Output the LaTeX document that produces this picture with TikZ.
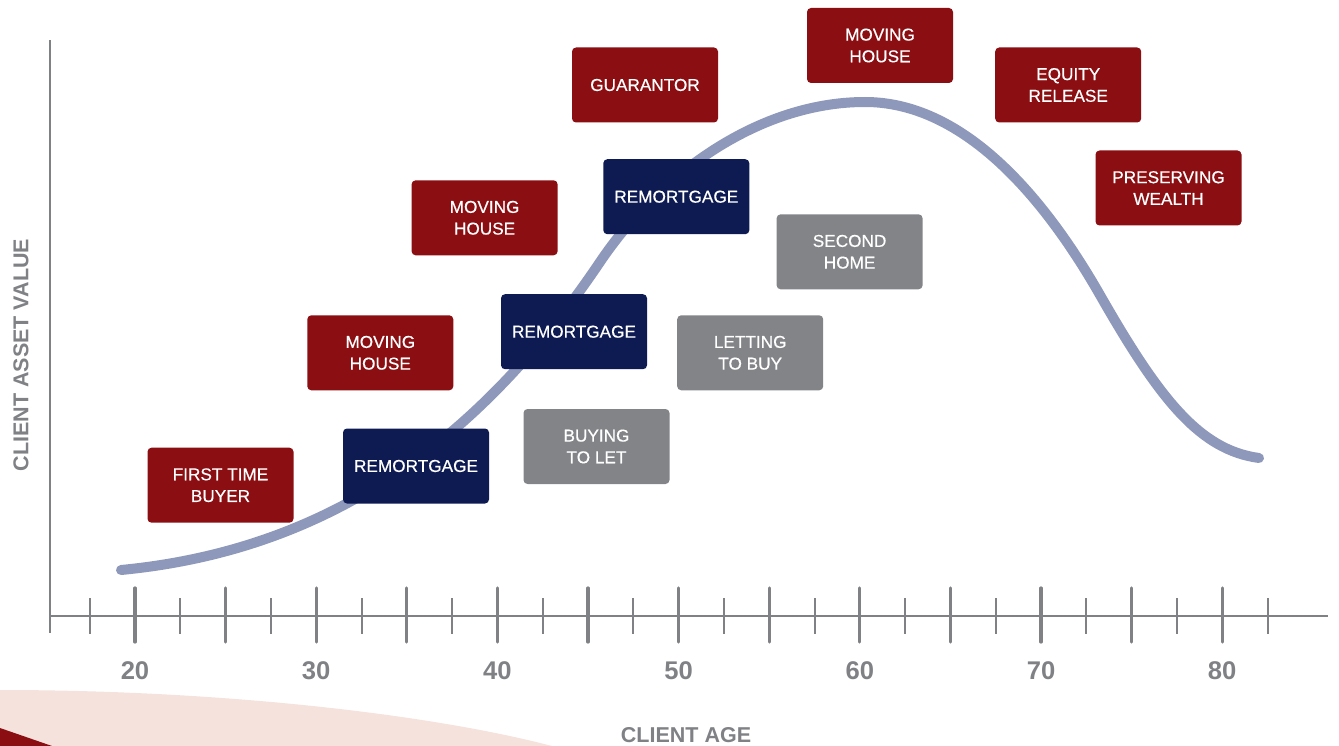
\documentclass[tikz,border=0pt]{standalone}
\usepackage{fontspec}
\setmainfont{Liberation Sans}
\newfontfamily\boxfont[FakeBold=0.5]{Liberation Sans}
\definecolor{boxred}{RGB}{139,14,18}
\definecolor{boxnavy}{RGB}{14,27,82}
\definecolor{boxgray}{RGB}{131,132,136}
\definecolor{curvec}{RGB}{142,152,186}
\definecolor{axisc}{RGB}{128,129,133}
\definecolor{swoosh}{RGB}{245,226,220}
\begin{document}
\begin{tikzpicture}[x=1pt,y=-1pt,
  box/.style={rectangle, rounded corners=4pt, minimum width=146pt, minimum height=75pt,
    inner sep=0pt, text=white, align=center, font=\boxfont\fontsize{17.2}{21.7}\selectfont},
  redbox/.style={box, fill=boxred},
  navybox/.style={box, fill=boxnavy},
  graybox/.style={box, fill=boxgray},
  majortick/.style={draw=axisc, line width=3.2pt, line cap=round},
  minortick/.style={draw=axisc, line width=2pt},
  ticklabel/.style={text=axisc, font=\fontsize{25.6}{28}\selectfont\bfseries, inner sep=0pt},
  axislabel/.style={text=axisc, font=\fontsize{21.5}{24}\selectfont\bfseries, inner sep=0pt},
  lifecurve/.style={draw=curvec, line width=10pt, line cap=round, line join=round}]
\useasboundingbox (0,0) rectangle (1339,746);
% background swoosh
\fill[swoosh] (0,690) .. controls (220,690) and (430,714) .. (552,746) -- (0,746) -- cycle;
\fill[boxred] (0,728) -- (52,746) -- (0,746) -- cycle;
% axes
\draw[axisc, line width=2.4pt] (50,40) -- (50,633);
\draw[axisc, line width=2.4pt] (50,616) -- (1328,616);
\foreach \a in {20,25,...,80} {
  \pgfmathsetmacro{\xx}{135+(\a-20)*18.12}
  \draw[majortick] (\xx,588) -- (\xx,642);
}
\foreach \a in {17.5,22.5,...,82.5} {
  \pgfmathsetmacro{\xx}{135+(\a-20)*18.12}
  \draw[minortick] (\xx,598) -- (\xx,634);
}
\foreach \a in {20,30,...,80} {
  \pgfmathsetmacro{\xx}{135+(\a-20)*18.12}
  \node[ticklabel] (l\a) at (\xx,671) {\a};
}
\node[axislabel] (xlab) at (686,735) {CLIENT AGE};
\node[axislabel, rotate=90] (ylab) at (21,355) {CLIENT ASSET VALUE};
% curve
\draw[lifecurve] (121,570) .. controls (330,550) and (480,440) .. (600,262)
  .. controls (660,173) and (760,102) .. (865,102)
  .. controls (960,102) and (1040,190) .. (1100,295)
  .. controls (1160,400) and (1200,450) .. (1259,458);
% boxes
\node[redbox]  (ftb)  at (220.5,485.2) {FIRST TIME\\BUYER};
\node[navybox] (rm1)  at (416,466)     {REMORTGAGE};
\node[redbox]  (mh1)  at (380.3,352.8) {MOVING\\HOUSE};
\node[navybox] (rm2)  at (574,331.7)   {REMORTGAGE};
\node[graybox] (btl)  at (596.5,446.5) {BUYING\\TO LET};
\node[redbox]  (mh2)  at (484.6,217.8) {MOVING\\HOUSE};
\node[navybox] (rm3)  at (676.3,196.7) {REMORTGAGE};
\node[graybox] (ltb)  at (750.2,352.8) {LETTING\\TO BUY};
\node[graybox] (sh)   at (849.6,251.8) {SECOND\\HOME};
\node[redbox]  (gua)  at (645,85)      {GUARANTOR};
\node[redbox]  (mh3)  at (880,45.5)    {MOVING\\HOUSE};
\node[redbox]  (eqr)  at (1068.2,85)   {EQUITY\\RELEASE};
\node[redbox]  (pw)   at (1168.5,188)  {PRESERVING\\WEALTH};
\end{tikzpicture}
\end{document}
